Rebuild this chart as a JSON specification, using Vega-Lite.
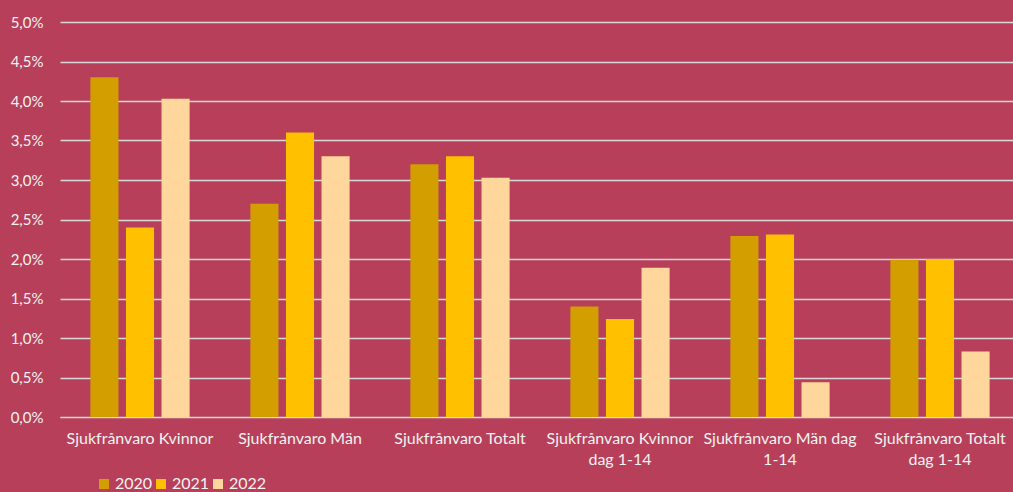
{
  "$schema": "https://vega.github.io/schema/vega-lite/v6.json",
  "autosize": "none",
  "width": 960,
  "height": 395,
  "padding": {"left": 60, "top": 22, "right": 0, "bottom": 75},
  "background": "#B83F59",
  "config": {
    "view": {"stroke": null},
    "locale": {"number": {"decimal": ",", "thousands": " ", "grouping": [3], "currency": ["", " kr"]}},
    "font": "Lato"
  },
  "data": {
    "values": [
      {"kategori": "Sjukfrånvaro Kvinnor", "år": "2020", "värde": 0.0430},
      {"kategori": "Sjukfrånvaro Kvinnor", "år": "2021", "värde": 0.0240},
      {"kategori": "Sjukfrånvaro Kvinnor", "år": "2022", "värde": 0.0403},
      {"kategori": "Sjukfrånvaro Män", "år": "2020", "värde": 0.0270},
      {"kategori": "Sjukfrånvaro Män", "år": "2021", "värde": 0.0360},
      {"kategori": "Sjukfrånvaro Män", "år": "2022", "värde": 0.0330},
      {"kategori": "Sjukfrånvaro Totalt", "år": "2020", "värde": 0.0320},
      {"kategori": "Sjukfrånvaro Totalt", "år": "2021", "värde": 0.0330},
      {"kategori": "Sjukfrånvaro Totalt", "år": "2022", "värde": 0.0303},
      {"kategori": "Sjukfrånvaro Kvinnor dag 1-14", "år": "2020", "värde": 0.0140},
      {"kategori": "Sjukfrånvaro Kvinnor dag 1-14", "år": "2021", "värde": 0.0124},
      {"kategori": "Sjukfrånvaro Kvinnor dag 1-14", "år": "2022", "värde": 0.0189},
      {"kategori": "Sjukfrånvaro Män dag 1-14", "år": "2020", "värde": 0.0229},
      {"kategori": "Sjukfrånvaro Män dag 1-14", "år": "2021", "värde": 0.0231},
      {"kategori": "Sjukfrånvaro Män dag 1-14", "år": "2022", "värde": 0.0044},
      {"kategori": "Sjukfrånvaro Totalt dag 1-14", "år": "2020", "värde": 0.0199},
      {"kategori": "Sjukfrånvaro Totalt dag 1-14", "år": "2021", "värde": 0.0200},
      {"kategori": "Sjukfrånvaro Totalt dag 1-14", "år": "2022", "värde": 0.0083}
    ]
  },
  "mark": {"type": "bar"},
  "encoding": {
    "x": {
      "field": "kategori",
      "type": "nominal",
      "sort": null,
      "scale": {"paddingInner": 0.38, "paddingOuter": 0.19},
      "axis": {
        "title": null,
        "labelAngle": 0,
        "labelFontSize": 16,
        "labelColor": "#F2F2F2",
        "labelPadding": 13,
        "labelLineHeight": 21,
        "labelLimit": 0,
        "ticks": false,
        "domain": true,
        "domainColor": "#D9D9D9",
        "grid": false,
        "labelExpr": "datum.label == 'Sjukfrånvaro Kvinnor dag 1-14' ? ['Sjukfrånvaro Kvinnor', 'dag 1-14'] : datum.label == 'Sjukfrånvaro Män dag 1-14' ? ['Sjukfrånvaro Män dag', '1-14'] : datum.label == 'Sjukfrånvaro Totalt dag 1-14' ? ['Sjukfrånvaro Totalt', 'dag 1-14'] : datum.label"
      }
    },
    "xOffset": {
      "field": "år",
      "type": "nominal",
      "scale": {"paddingInner": 0.21, "paddingOuter": 0}
    },
    "y": {
      "field": "värde",
      "type": "quantitative",
      "scale": {"domain": [0, 0.05], "nice": false},
      "axis": {
        "title": null,
        "format": ".1%",
        "values": [0, 0.005, 0.01, 0.015, 0.02, 0.025, 0.03, 0.035, 0.04, 0.045, 0.05],
        "labelFontSize": 15,
        "labelColor": "#F2F2F2",
        "labelPadding": 17,
        "ticks": false,
        "domain": false,
        "grid": true,
        "gridColor": "#D9D9D9",
        "gridWidth": 1.3
      }
    },
    "color": {
      "field": "år",
      "type": "nominal",
      "scale": {"domain": ["2020", "2021", "2022"], "range": ["#D29E00", "#FFC000", "#FFD79C"]},
      "legend": {
        "title": null,
        "orient": "none",
        "legendX": 36,
        "legendY": 454,
        "direction": "horizontal",
        "columns": 3,
        "columnPadding": 0,
        "symbolType": "square",
        "symbolSize": 100,
        "symbolStrokeWidth": 0,
        "labelFontSize": 16,
        "labelColor": "#F2F2F2",
        "labelOffset": 3
      }
    }
  }
}
